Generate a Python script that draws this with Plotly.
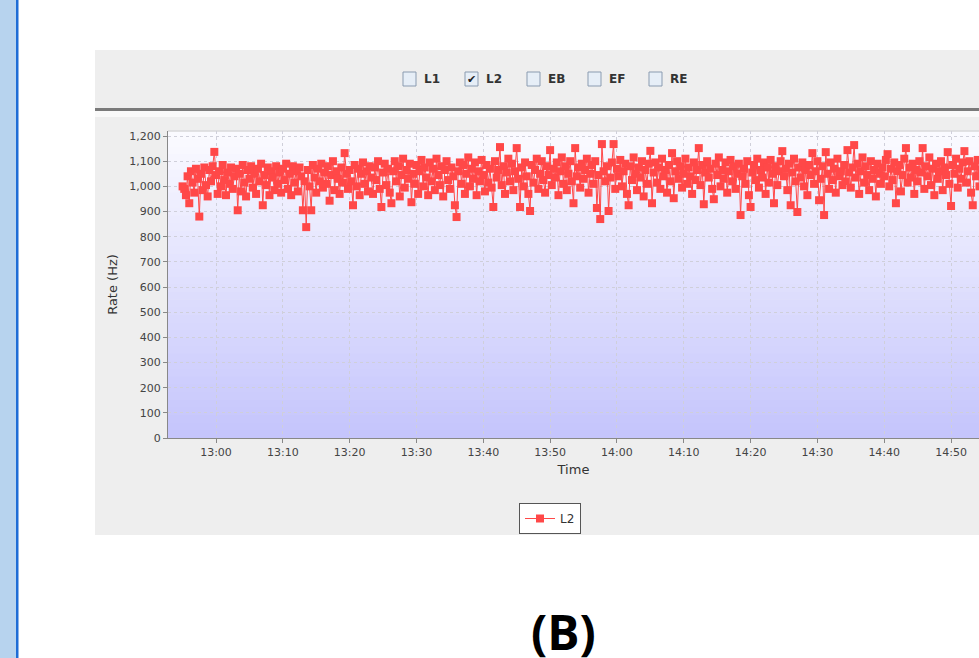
import plotly.graph_objects as go
import pandas as pd

# ---------------- data ----------------
start_time = "2024-01-01 12:55:00"
sample_seconds = 15
rate_l2 = [
    1000, 990, 965, 1040, 933, 1060, 1015, 975, 1070, 1030, 880, 1050, 985, 1075, 1005, 960, 1065, 1020, 1080, 1137,
    1045, 970, 1060, 1000, 1085, 1025, 965, 1055, 1010, 1075, 990, 1040, 1070, 905, 1050, 980, 1085, 1015, 960, 1065,
    1030, 1080, 995, 1050, 970, 1070, 1020, 1090, 925, 1045, 1005, 1075, 965, 1060, 1035, 985, 1080, 1010, 1055, 975,
    1070, 1025, 1090, 990, 1050, 965, 1080, 1015, 1060, 980, 1075, 1040, 905, 1020, 838, 1065, 1000, 905, 1085, 1035,
    975, 1070, 1020, 1090, 995, 1055, 1010, 1080, 943, 1045, 1100, 985, 1060, 1030, 970, 1075, 1015, 1132, 1050, 990,
    1065, 1020, 925, 1085, 1000, 1070, 965, 1050, 1095, 1010, 1060, 980, 1080, 1035, 970, 1075, 1025, 1100, 990, 918,
    1055, 1090, 1005, 1070, 975, 933, 1060, 1100, 1020, 1080, 960, 1045, 1110, 995, 1065, 1030, 1090, 937, 1050, 1010,
    1085, 970, 1060, 1105, 1000, 1075, 1035, 965, 1095, 1020, 1070, 985, 1110, 1045, 1005, 1080, 960, 1065, 1100, 1025,
    990, 1075, 1040, 925, 878, 1060, 1095, 1010, 1085, 970, 1050, 1115, 1000, 1070, 1030, 1095, 965, 1060, 1020, 1105,
    1045, 980, 1085, 1015, 1070, 995, 918, 1100, 1035, 1065, 1156, 1005, 1080, 970, 1055, 1110, 1020, 1090, 985, 1060,
    1152, 1030, 918, 1075, 1000, 1095, 1040, 970, 902, 1085, 1015, 1065, 1110, 990, 1050, 1100, 1025, 975, 1080, 1045,
    1144, 1005, 1070, 1035, 1095, 965, 1060, 1115, 1010, 1080, 985, 1050, 1100, 1020, 933, 1152, 1040, 1075, 995, 1090,
    1030, 1065, 1110, 975, 1050, 1085, 1010, 1100, 914, 1045, 870, 1168, 1060, 1020, 1080, 902, 1035, 1095, 1168, 990,
    1070, 1040, 1105, 1000, 1060, 1090, 970, 925, 1080, 1025, 1115, 1050, 985, 1075, 1035, 1100, 960, 1065, 1010, 1090,
    1141, 933, 1055, 1095, 1015, 1075, 990, 1110, 1040, 1065, 975, 1085, 1020, 1132, 953, 1060, 1100, 1030, 1080, 995,
    1050, 1110, 1010, 1075, 1040, 970, 1095, 1025, 1065, 1152, 1005, 1085, 929, 1055, 1100, 1035, 1070, 990, 949, 1090,
    1045, 1115, 1000, 1065, 1030, 1095, 975, 1060, 1105, 1020, 1080, 990, 1050, 1090, 886, 1040, 1070, 1010, 1100, 965,
    918, 1055, 1085, 1025, 1110, 995, 1065, 1035, 1095, 970, 1075, 1015, 1105, 1050, 933, 1080, 1005, 1060, 1100, 1140,
    1040, 1070, 985, 1090, 925, 1055, 1110, 1020, 898, 1075, 1035, 1095, 1000, 1065, 965, 1085, 1045, 1132, 1010, 1060,
    1100, 945, 1030, 1080, 886, 1136, 1050, 990, 1095, 1025, 1070, 975, 1110, 1040, 1060, 1005, 1085, 1020, 1144, 1055,
    995, 1075, 1164, 1035, 1090, 970, 1060, 1115, 1015, 1080, 1045, 985, 1100, 1030, 1065, 960, 1090, 1050, 1010, 1075,
    1040, 1105, 1128, 1000, 1070, 1025, 1095, 933, 1060, 1085, 980, 1045, 1110, 1152, 1015, 1075, 1035, 1090, 970, 1065,
    1020, 1100, 1055, 1152, 990, 1080, 1040, 1115, 1005, 1070, 965, 1090, 1030, 1060, 1100, 985, 1075, 1045, 1136, 1010,
    922, 1085, 1050, 1110, 995, 1070, 1030, 1095, 1140, 1015, 1060, 1100, 975, 925, 1080, 1040, 1105, 1000, 1065, 1090,
    1035,
]
checkbox_labels = ["L1", "L2", "EB", "EF", "RE"]
checkbox_checked = [False, True, False, False, False]
y_ticks = [0, 100, 200, 300, 400, 500, 600, 700, 800, 900, 1000, 1100, 1200]

times = pd.Timestamp(start_time) + pd.to_timedelta(
    [i * sample_seconds for i in range(len(rate_l2))], unit="s")

# ---------------- layout helpers ----------------
W, H = 979, 658
ML, MR, MT, MB = 168, 0, 131, 220
PW, PH = W - ML - MR, H - MT - MB


def pxx(x):
    return (x - ML) / PW


def pxy(y):
    return (H - MB - y) / PH


fig = go.Figure()
fig.add_trace(go.Scatter(
    x=times, y=rate_l2, mode="lines+markers", name="L2",
    line=dict(color="#FF4848", width=1),
    marker=dict(symbol="square", size=8, color="#FF4848"),
))

shapes = []
# left slide band
shapes.append(dict(type="rect", xref="paper", yref="paper", x0=pxx(0), x1=pxx(16),
                   y0=pxy(0), y1=pxy(H), fillcolor="#B7D3EE", line_width=0, layer="below"))
shapes.append(dict(type="rect", xref="paper", yref="paper", x0=pxx(16), x1=pxx(18.5),
                   y0=pxy(0), y1=pxy(H), fillcolor="#1E6CD6", line_width=0, layer="below"))
# gray application panel
shapes.append(dict(type="rect", xref="paper", yref="paper", x0=pxx(95), x1=pxx(W),
                   y0=pxy(50), y1=pxy(535), fillcolor="#EEEEEE", line_width=0, layer="below"))
shapes.append(dict(type="rect", xref="paper", yref="paper", x0=pxx(95), x1=pxx(W),
                   y0=pxy(108), y1=pxy(111), fillcolor="#7A7A7A", line_width=0, layer="below"))
shapes.append(dict(type="rect", xref="paper", yref="paper", x0=pxx(95), x1=pxx(W),
                   y0=pxy(111), y1=pxy(117), fillcolor="#F9F9F9", line_width=0, layer="below"))
# plot-area gradient (white at top to lavender at bottom)
n_strips = 40
top_c = (251, 251, 255)
bot_c = (196, 196, 252)
for k in range(n_strips):
    t = (k + 0.5) / n_strips
    c = tuple(int(round(bot_c[j] + (top_c[j] - bot_c[j]) * t)) for j in range(3))
    shapes.append(dict(type="rect", xref="x domain", yref="y domain",
                       x0=0, x1=1, y0=k / n_strips, y1=(k + 1) / n_strips + 0.002,
                       fillcolor="rgb(%d,%d,%d)" % c, line_width=0, layer="below"))
shapes.append(dict(type="line", xref="x domain", yref="y domain", x0=0, x1=1, y0=1, y1=1,
                   line=dict(color="#C8C8C8", width=1), layer="below"))

annotations = []
box_x = [403, 465, 527, 588, 649]
for lab, chk, bx in zip(checkbox_labels, checkbox_checked, box_x):
    shapes.append(dict(type="rect", xref="paper", yref="paper", x0=pxx(bx), x1=pxx(bx + 13),
                       y0=pxy(72), y1=pxy(86), fillcolor="#E6EEF7",
                       line=dict(color="#8A9BB0", width=1)))
    annotations.append(dict(xref="paper", yref="paper", x=pxx(bx + 19), y=pxy(79),
                            xanchor="left", yanchor="middle", showarrow=False,
                            text="<b>%s</b>" % lab,
                            font=dict(family="DejaVu Sans", size=12, color="#333333")))
    if chk:
        annotations.append(dict(xref="paper", yref="paper", x=pxx(bx + 6.5), y=pxy(79.5),
                                xanchor="center", yanchor="middle", showarrow=False,
                                text="✔", font=dict(family="DejaVu Sans", size=11, color="#222222")))

annotations.append(dict(xref="paper", yref="paper", x=pxx(563), y=pxy(597),
                        xanchor="center", yanchor="top", showarrow=False, text="<b>(B)</b>",
                        font=dict(family="Open Sans", size=48, color="#000000")))

fig.update_layout(
    width=W, height=H,
    margin=dict(l=ML, r=MR, t=MT, b=MB, pad=0),
    paper_bgcolor="#FFFFFF",
    plot_bgcolor="rgba(0,0,0,0)",
    separators=".,",
    shapes=shapes,
    annotations=annotations,
    showlegend=True,
    legend=dict(x=pxx(519), y=pxy(503), xanchor="left", yanchor="top",
                bgcolor="#FFFFFF", bordercolor="#555555", borderwidth=1,
                font=dict(family="DejaVu Sans", size=12, color="#333333"),
                itemwidth=30, tracegroupgap=0),
    font=dict(family="DejaVu Sans", color="#444444"),
)

fig.update_xaxes(
    type="date",
    range=["2024-01-01 12:52:49", "2024-01-01 14:54:11"],
    dtick=600000, tick0="2024-01-01 13:00:00", tickformat="%H:%M",
    showgrid=True, gridcolor="#CFCFDA", griddash="dot", gridwidth=1,
    showline=True, linecolor="#888888", linewidth=1,
    ticks="outside", ticklen=4, tickcolor="#888888",
    tickfont=dict(family="DejaVu Sans", size=11, color="#444444"),
    title=dict(text="Time", font=dict(family="DejaVu Sans", size=13, color="#333333"), standoff=6),
    zeroline=False, fixedrange=True,
)
fig.update_yaxes(
    range=[0, 1220],
    tickvals=y_ticks, tickformat=",d",
    showgrid=True, gridcolor="#CFCFDA", griddash="dot", gridwidth=1,
    showline=True, linecolor="#888888", linewidth=1,
    ticks="outside", ticklen=4, tickcolor="#888888",
    tickfont=dict(family="DejaVu Sans", size=11, color="#444444"),
    title=dict(text="Rate (Hz)", font=dict(family="DejaVu Sans", size=13, color="#333333"), standoff=8),
    zeroline=False, fixedrange=True,
)

fig.write_html("out.html")
